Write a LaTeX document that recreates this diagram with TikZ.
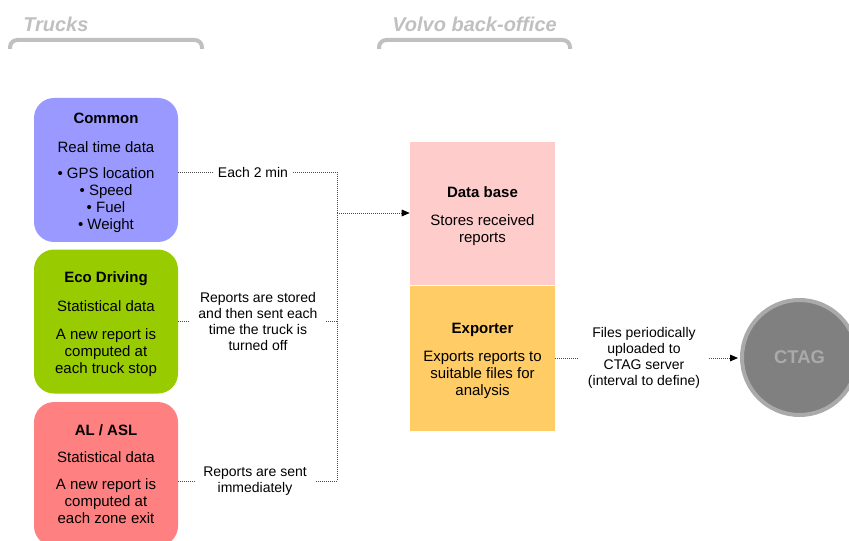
\documentclass[tikz,border=0pt]{standalone}
\usepackage{fontspec}
\setmainfont{Liberation Sans}
\usetikzlibrary{arrows.meta, positioning}
\definecolor{commonblue}{RGB}{153,153,255}
\definecolor{ecogreen}{RGB}{153,204,0}
\definecolor{alred}{RGB}{255,128,128}
\definecolor{dbpink}{RGB}{255,204,204}
\definecolor{exportorange}{RGB}{255,204,102}
\definecolor{titlegray}{RGB}{192,192,192}
\definecolor{ctagfill}{RGB}{128,128,128}
\definecolor{ctagedge}{RGB}{170,170,170}
\newcommand{\topstrut}{\rule{0pt}{12.5pt}}

\begin{document}
\begin{tikzpicture}[x=0.75pt, y=-0.75pt,
    every node/.style={font=\fontsize{11.25}{12.75}\selectfont},
    truck/.style={rectangle, rounded corners=15pt, draw=none, minimum width=108pt, minimum height=108pt, align=center, inner sep=0pt},
    office/.style={rectangle, draw=none, minimum width=108.75pt, align=center, inner sep=0pt},
    note/.style={align=center, inner xsep=6.5pt, inner ysep=2pt, font=\fontsize{10.5}{12}\selectfont},
    title/.style={anchor=base west, inner sep=0pt, text=titlegray, font=\fontsize{15}{18}\selectfont\bfseries\itshape},
    brace/.style={draw=titlegray, line width=3pt, rounded corners=5.5pt},
    link/.style={draw=black!70, line width=0.6pt, dash pattern=on 0.75pt off 0.75pt},
    send/.style={link, -{Triangle[length=6pt,width=5pt,black]}},
    ctag/.style={circle, fill=ctagfill, draw=ctagedge, line width=3pt, minimum size=86.25pt, inner sep=0pt, text=ctagedge, font=\fontsize{13.8}{15}\selectfont\bfseries}
]
\useasboundingbox (0,0) rectangle (849,541);

% Column titles
\node[title] (trucks) at (23,32) {Trucks};
\node[title] (backoffice) at (392,32) {Volvo back-office};
\draw[brace] (10,49) |- (202,40) -- (202,49);
\draw[brace] (379,49) |- (570,40) -- (570,49);

% Truck data sources
\node[truck, fill=commonblue] (common) at (106,170) {\topstrut\textbf{Common}\\[8.5pt]Real time data\\[7pt]• GPS location\\• Speed\\• Fuel\\• Weight};
\node[truck, fill=ecogreen, below=5.25pt of common] (eco) {\topstrut\textbf{Eco Driving}\\[8.5pt]Statistical data\\[8.5pt]A new report is\\computed at\\each truck stop};
\node[truck, fill=alred, below=6pt of eco] (al) {\textbf{AL / ASL}\\[7.5pt]Statistical data\\[7.5pt]A new report is\\computed at\\each zone exit};

% Back-office blocks
\node[office, fill=dbpink, minimum height=107.25pt] (database) at (482.5,213.5) {\topstrut\textbf{Data base}\\[8.5pt]Stores received\\reports};
\node[office, fill=exportorange, minimum height=108.75pt, below=0pt of database] (exporter) {\topstrut\textbf{Exporter}\\[8.5pt]Exports reports to\\suitable files for\\analysis};
\node[ctag] (ctag) at (799.5,357.5) {CTAG};

% Transfer labels
\node[note, inner xsep=3.5pt] (each) at (253,172) {Each 2 min};
\node[note] (stored) at (258,321) {Reports are stored\\and then sent each\\time the truck is\\turned off};
\node[note] (sent) at (255,481) {Reports are sent\\immediately};
\node[note] (files) at (644,358) {Files periodically\\uploaded to\\CTAG server\\(interval to define)};
\coordinate (bus) at (337,213);

% Dotted connectors
\draw[link] (each -| common.east) -- (each);
\draw[link] (each) -| (bus);
\draw[link] (stored -| eco.east) -- (stored);
\draw[link] (stored) -| (bus);
\draw[link] (sent -| al.east) -- (sent);
\draw[link] (sent) -| (bus);
\draw[send] (bus) -- (bus -| database.west);
\draw[link] (files -| exporter.east) -- (files);
\draw[send, shorten >=1.5pt] (files) -- (files -| ctag.west);

\end{tikzpicture}
\end{document}
